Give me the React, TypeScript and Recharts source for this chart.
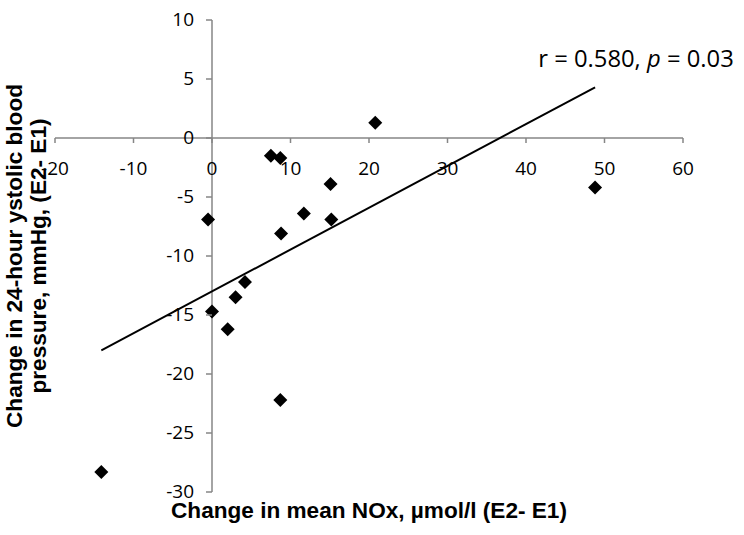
import React from 'react';
import { ScatterChart, Scatter, XAxis, YAxis, ReferenceLine, Customized } from 'recharts';

// ---- data ----
const X_TICKS = [-20, -10, 0, 10, 20, 30, 40, 50, 60];
const Y_TICKS = [-30, -25, -20, -15, -10, -5, 0, 5, 10];
const NOX_CHANGE = [7.5, 8.7, 15.1, -0.5, 11.7, 15.2, 8.8, 20.8, 48.8, 0.0, 2.0, 3.0, 4.2, 8.7, -14.1];
const SBP_CHANGE = [-1.5, -1.7, -3.9, -6.9, -6.4, -6.9, -8.1, 1.3, -4.2, -14.7, -16.2, -13.5, -12.2, -22.2, -28.3];
const TREND_X = [-14.1, 48.8];
const TREND_Y = [-18.0, 4.3];
const X_TITLE = 'Change in mean NOx, µmol/l (E2- E1)';
const Y_TITLE_LINES = ['Change in 24-hour ystolic blood', 'pressure, mmHg, (E2- E1)'];
const ANNOT_MAIN = 'r = 0.580, ';
const ANNOT_P = 'p';
const ANNOT_REST = ' = 0.03';

// ---- layout ----
const W = 744;
const H = 535;
const AXIS_SIZE = 1;
const M = { top: 20, right: 61, bottom: 43 - AXIS_SIZE, left: 55 - AXIS_SIZE };
const PLOT_LEFT = M.left + AXIS_SIZE;
const PLOT_W = W - PLOT_LEFT - M.right;
const PLOT_H = H - M.top - M.bottom - AXIS_SIZE;
const X_MIN = X_TICKS[0];
const X_MAX = X_TICKS[X_TICKS.length - 1];
const Y_MIN = Y_TICKS[0];
const Y_MAX = Y_TICKS[Y_TICKS.length - 1];
const ZERO_X = PLOT_LEFT + (PLOT_W * (0 - X_MIN)) / (X_MAX - X_MIN);
const ZERO_Y = M.top + (PLOT_H * (Y_MAX - 0)) / (Y_MAX - Y_MIN);

const AXIS_COLOR = '#868686';
const TICK_FONT = '"Open Sans", sans-serif';
const TITLE_FONT = '"Liberation Sans", Arial, sans-serif';

const points = NOX_CHANGE.map((x, i) => ({ x, y: SBP_CHANGE[i] }));
const trend = TREND_X.map((x, i) => ({ x, y: TREND_Y[i] }));

const XTick = (props: any) => {
  const { x, payload } = props;
  return (
    <g>
      <line x1={x} x2={x} y1={ZERO_Y} y2={ZERO_Y + 5} stroke={AXIS_COLOR} strokeWidth={1.5} />
      <text x={x} y={ZERO_Y + 37} textAnchor="middle" fontSize={19} fontFamily={TICK_FONT} fill="#000">
        {payload.value}
      </text>
    </g>
  );
};

const YTick = (props: any) => {
  const { y, payload } = props;
  return (
    <g>
      <line x1={ZERO_X - 6} x2={ZERO_X} y1={y} y2={y} stroke={AXIS_COLOR} strokeWidth={1.5} />
      <text x={ZERO_X - 18} y={y + 6} textAnchor="end" fontSize={19} fontFamily={TICK_FONT} fill="#000">
        {payload.value}
      </text>
    </g>
  );
};

const Diamond = (props: any) => {
  const { cx, cy } = props;
  if (cx == null || cy == null) return <g />;
  const r = 7;
  return <path d={`M${cx},${cy - r}L${cx + r},${cy}L${cx},${cy + r}L${cx - r},${cy}Z`} fill="#000" />;
};

const NoShape = () => <g />;

const Texts = () => {
  const cyTitle = M.top + PLOT_H / 2;
  const cxTitle = PLOT_LEFT + PLOT_W / 2;
  return (
    <g>
      <text x={cxTitle} y={518} textAnchor="middle" fontSize={22.6} fontWeight="bold" fontFamily={TITLE_FONT} fill="#000">
        {X_TITLE}
      </text>
      <text
        transform={`translate(22, ${cyTitle}) rotate(-90)`}
        textAnchor="middle"
        fontSize={22.6}
        fontWeight="bold"
        fontFamily={TITLE_FONT}
        fill="#000"
      >
        <tspan x={0} y={0}>{Y_TITLE_LINES[0]}</tspan>
        <tspan x={0} y={24}>{Y_TITLE_LINES[1]}</tspan>
      </text>
      <text x={636} y={67} textAnchor="middle" fontSize={23.8} fontFamily={TICK_FONT} fill="#000">
        {ANNOT_MAIN}
        <tspan fontStyle="italic">{ANNOT_P}</tspan>
        {ANNOT_REST}
      </text>
    </g>
  );
};

export default function App() {
  return (
    <div style={{ position: 'absolute', left: 0, top: 0, width: W, height: H, background: '#fff' }}>
      <ScatterChart width={W} height={H} margin={M}>
        <XAxis
          type="number"
          dataKey="x"
          domain={[X_MIN, X_MAX]}
          ticks={X_TICKS}
          interval={0}
          height={AXIS_SIZE}
          axisLine={false}
          tickLine={false}
          tick={<XTick />}
          allowDataOverflow
        />
        <YAxis
          type="number"
          dataKey="y"
          domain={[Y_MIN, Y_MAX]}
          ticks={Y_TICKS}
          interval={0}
          width={AXIS_SIZE}
          axisLine={false}
          tickLine={false}
          tick={<YTick />}
          allowDataOverflow
        />
        <ReferenceLine y={0} stroke={AXIS_COLOR} strokeWidth={1.5} />
        <ReferenceLine x={0} stroke={AXIS_COLOR} strokeWidth={1.5} />
        <Scatter
          data={trend}
          line={{ stroke: '#000', strokeWidth: 2 }}
          shape={<NoShape />}
          isAnimationActive={false}
          legendType="none"
        />
        <Scatter data={points} shape={<Diamond />} isAnimationActive={false} legendType="none" />
        <Customized component={<Texts />} />
      </ScatterChart>
    </div>
  );
}
